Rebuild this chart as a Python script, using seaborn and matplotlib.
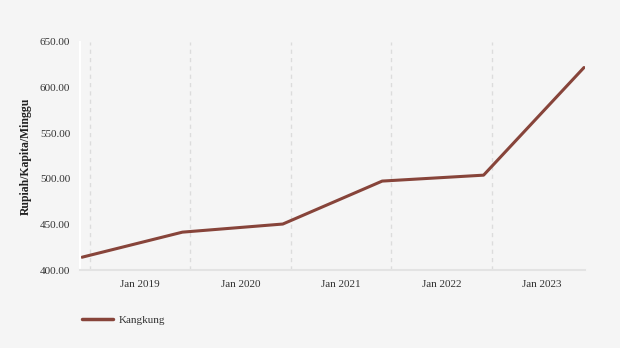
import matplotlib
matplotlib.use("Agg")
import matplotlib.pyplot as plt
import seaborn as sns
import pandas as pd

# data
years = [2018.92, 2019.92, 2020.92, 2021.91, 2022.92, 2023.92]
values = [414.0, 441.5, 450.4, 497.5, 504.0, 622.0]
series_name = "Kangkung"
grid_years = [2019, 2020, 2021, 2022, 2023]
tick_labels = ["Jan 2019", "Jan 2020", "Jan 2021", "Jan 2022", "Jan 2023"]
y_ticks = [400, 450, 500, 550, 600, 650]

df = pd.DataFrame({"year": years, "value": values, "series": series_name})

sns.set_theme(style="white")
plt.rcParams["font.family"] = ["Liberation Serif", "DejaVu Serif"]

bg = "#f5f5f5"
color = "#87443a"

fig = plt.figure(figsize=(6.2, 3.48), dpi=100, facecolor=bg)
ax = fig.add_axes([80/620, 1-270/348, 505/620, 228/348])
ax.set_facecolor(bg)

sns.lineplot(data=df, x="year", y="value", hue="series", palette=[color],
             linewidth=2.2, ax=ax, legend=False)

ax.set_xlim(2018.90, 2023.93)
ax.set_ylim(400, 650)

# gridlines at year boundaries
ax.set_xticks(grid_years)
ax.set_xticklabels([])
ax.set_xticks([g + 0.5 for g in grid_years], minor=True)
ax.set_xticklabels(tick_labels, minor=True)
ax.tick_params(axis="x", which="major", direction="in", length=5, color="#e0e0e0", width=1)
ax.tick_params(axis="x", which="minor", length=0, labelsize=8, colors="#333333", pad=7)
ax.xaxis.grid(True, which="major", linestyle=(0, (3, 3)), color="#dcdcdc", linewidth=1)

ax.set_yticks(y_ticks)
ax.set_yticklabels([f"{v:.2f}" for v in y_ticks])
ax.tick_params(axis="y", length=5, color="white", width=1.5, labelsize=8, colors="#333333", pad=2)
for t in ax.yaxis.get_ticklines():
    t.set_color("white")

for s in ["top", "right"]:
    ax.spines[s].set_visible(False)
ax.spines["left"].set_color("white")
ax.spines["left"].set_linewidth(1.5)
ax.spines["bottom"].set_color("#e3e3e3")
ax.spines["bottom"].set_linewidth(1.5)

ax.set_xlabel("")
ax.set_ylabel("Rupiah/Kapita/Minggu", fontsize=8.5, fontweight="bold", color="#222222", labelpad=6)

from matplotlib.lines import Line2D
h = [Line2D([0], [0], color=color, linewidth=2.5)]
fig.legend(h, [series_name], loc="center left", bbox_to_anchor=(72/620, 1-320/348),
           frameon=False, fontsize=8, handlelength=2.8, handletextpad=0.5,
           labelcolor="#333333")

fig.savefig("out.png", dpi=100, facecolor=bg)
